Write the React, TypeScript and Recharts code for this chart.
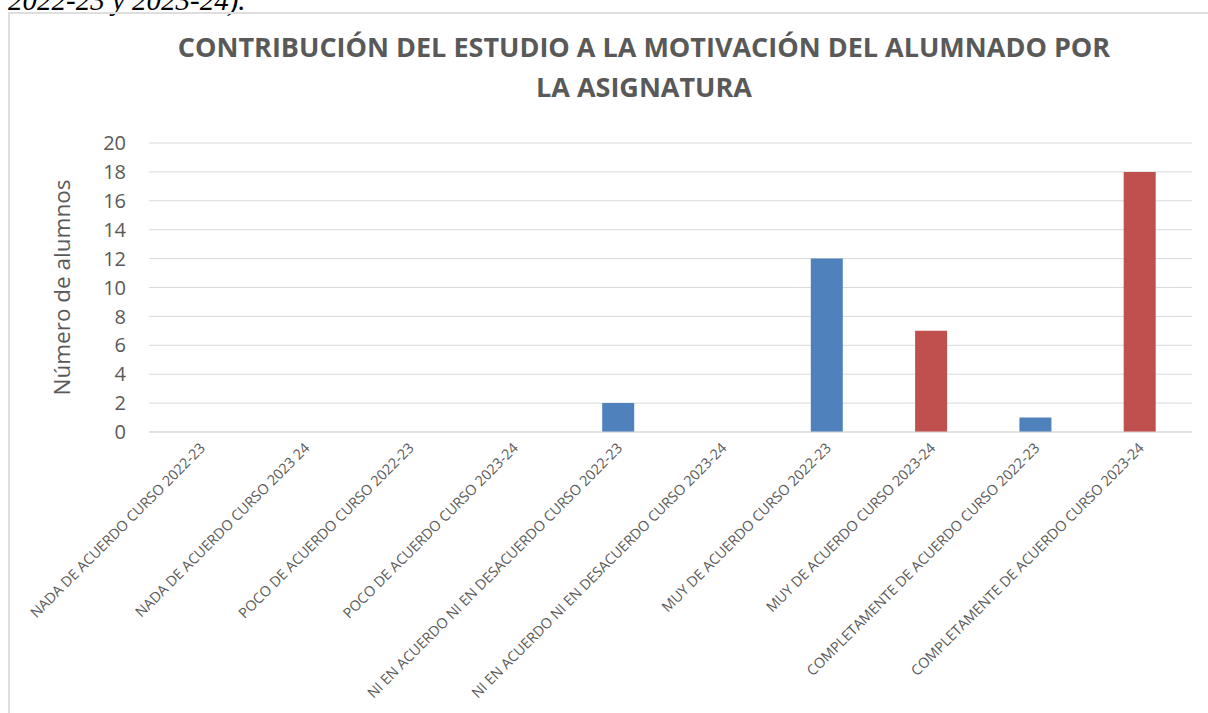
import React from 'react';
import { BarChart, Bar, XAxis, YAxis, CartesianGrid, Cell, Label } from 'recharts';

const categorias = [
  'NADA DE ACUERDO CURSO 2022-23',
  'NADA DE ACUERDO CURSO 2023 24',
  'POCO DE ACUERDO CURSO 2022-23',
  'POCO DE ACUERDO CURSO 2023-24',
  'NI EN ACUERDO NI EN DESACUERDO CURSO 2022-23',
  'NI EN ACUERDO NI EN DESACUERDO CURSO 2023-24',
  'MUY DE ACUERDO CURSO 2022-23',
  'MUY DE ACUERDO CURSO 2023-24',
  'COMPLETAMENTE DE ACUERDO CURSO 2022-23',
  'COMPLETAMENTE DE ACUERDO CURSO 2023-24',
];

const valores = [0, 0, 0, 0, 2, 0, 12, 7, 1, 18];

const cursos = [
  '2022-23', '2023-24', '2022-23', '2023-24', '2022-23',
  '2023-24', '2022-23', '2023-24', '2022-23', '2023-24',
];

const coloresCurso: Record<string, string> = {
  '2022-23': '#4F81BD',
  '2023-24': '#C0504D',
};

const yTicks = [0, 2, 4, 6, 8, 10, 12, 14, 16, 18, 20];

const titulo = ['CONTRIBUCIÓN DEL ESTUDIO A LA MOTIVACIÓN DEL ALUMNADO POR', 'LA ASIGNATURA'];

const FONT = '"Open Sans", sans-serif';
const GRIS = '#595959';

const data = categorias.map((nombre, i) => ({
  nombre,
  valor: valores[i],
  curso: cursos[i],
}));

const XTick = (props: any) => {
  const { x, y, payload } = props;
  return (
    <g transform={`translate(${x + 5},${y + 17})`}>
      <text
        x={0}
        y={0}
        textAnchor="end"
        transform="rotate(-45)"
        fill={GRIS}
        fontSize={14.3}
        fontFamily={FONT}
      >
        {payload.value}
      </text>
    </g>
  );
};

const YLabel = (props: any) => {
  const { viewBox } = props;
  const cy = viewBox.y + viewBox.height / 2;
  return (
    <text
      transform={`translate(${viewBox.x + 70},${cy}) rotate(-90)`}
      textAnchor="middle"
      fill={GRIS}
      fontSize={22.5}
      fontFamily={FONT}
    >
      Número de alumnos
    </text>
  );
};

export default function App() {
  return (
    <div
      style={{
        position: 'relative',
        width: 1208,
        height: 713,
        overflow: 'hidden',
        background: '#fff',
      }}
    >
      <style>{'html,body{margin:0;padding:0;overflow:hidden;}'}</style>
      <svg width={400} height={20} style={{ position: 'absolute', left: 0, top: 0 }}>
        <text
          x={8}
          y={10}
          fontFamily='"Liberation Serif", serif'
          fontStyle="italic"
          fontSize={29}
          fill="#000"
        >
          2022-23 y 2023-24).
        </text>
      </svg>
      <div
        style={{
          position: 'absolute',
          left: 8,
          top: 12,
          width: 1400,
          height: 900,
          border: '2px solid #dedede',
          boxSizing: 'border-box',
        }}
      />
      <div
        style={{
          position: 'absolute',
          left: 144,
          top: 27,
          width: 1000,
          textAlign: 'center',
          fontFamily: FONT,
          fontWeight: 700,
          fontSize: 27,
          lineHeight: '40px',
          color: GRIS,
        }}
      >
        {titulo.map((t) => (
          <div key={t}>{t}</div>
        ))}
      </div>
      <div style={{ position: 'absolute', left: 0, top: 0 }}>
        <BarChart
          width={1208}
          height={713}
          data={data}
          margin={{ top: 143, right: 16, bottom: 0, left: 0 }}
          barSize={32}
        >
          <CartesianGrid vertical={false} stroke="#d9d9d9" />
          <XAxis
            dataKey="nombre"
            interval={0}
            tickLine={false}
            tickSize={0}
            tickMargin={0}
            axisLine={{ stroke: '#d9d9d9' }}
            tick={<XTick />}
            height={281}
          />
          <YAxis
            width={149}
            domain={[0, 20]}
            ticks={yTicks}
            axisLine={false}
            tickLine={false}
            tickSize={0}
            tickMargin={23}
            tick={{ fill: GRIS, fontSize: 20, fontFamily: FONT }}
          >
            <Label content={<YLabel />} />
          </YAxis>
          <Bar dataKey="valor" isAnimationActive={false}>
            {data.map((d, i) => (
              <Cell key={i} fill={coloresCurso[d.curso]} />
            ))}
          </Bar>
        </BarChart>
      </div>
    </div>
  );
}
